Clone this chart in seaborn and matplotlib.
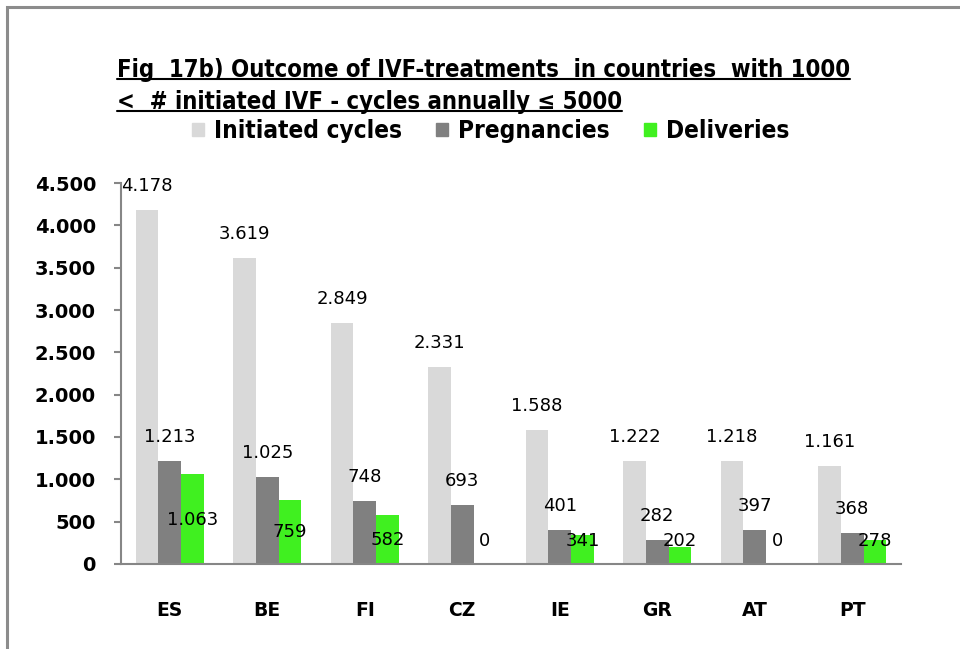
import numpy as np
import pandas as pd
import seaborn as sns
import matplotlib.pyplot as plt
from matplotlib import font_manager as fm
from matplotlib.patches import Rectangle
from matplotlib.lines import Line2D

# data
countries = ['ES', 'BE', 'FI', 'CZ', 'IE', 'GR', 'AT', 'PT']
initiated = [4178, 3619, 2849, 2331, 1588, 1222, 1218, 1161]
pregnancies = [1213, 1025, 748, 693, 401, 282, 397, 368]
deliveries = [1063, 759, 582, 0, 341, 202, 0, 278]
series = ['Initiated cycles', 'Pregnancies', 'Deliveries']
colors = ['#d9d9d9', '#808080', '#40f020']

title_lines = ['Fig  17b) Outcome of IVF-treatments  in countries  with 1000',
               '<  # initiated IVF - cycles annually \u2264 5000']


def fmt(v):
    # European thousands separator
    return f'{v:,}'.replace(',', '.')


def narrow_font():
    # look for an installed condensed bold sans, otherwise plain Liberation Sans
    names = sorted({f.name for f in fm.fontManager.ttflist
                    if 'Narrow' in f.name or 'Condensed' in f.name
                    or (f.stretch in ('condensed', 'semi-condensed')
                        and 'Sans' in f.name)})
    for n in names:
        if 'Liberation' in n or 'Arial' in n:
            return n, 'normal'
    for f in fm.fontManager.ttflist:
        if f.stretch in ('condensed', 'semi-condensed') and f.name in (
                'Noto Sans', 'Open Sans', 'DejaVu Sans', 'Roboto'):
            return f.name, f.stretch
    if names:
        return names[0], 'normal'
    return 'Liberation Sans', 'normal'


title_font, title_stretch = narrow_font()

df = pd.DataFrame({'country': countries * 3,
                   'series': [s for s in series for _ in countries],
                   'value': initiated + pregnancies + deliveries})

sns.set_style('white')
plt.rcParams['font.family'] = ['DejaVu Sans']
plt.rcParams['text.color'] = 'black'
plt.rcParams['xtick.color'] = 'black'
plt.rcParams['ytick.color'] = 'black'

fig = plt.figure(figsize=(9.6, 6.49), dpi=100)
ax = fig.add_axes([0.126, 0.131, 0.8125, 0.587])

sns.barplot(data=df, x='country', y='value', hue='series', palette=colors,
            width=0.7, ax=ax, legend=False, saturation=1, linewidth=0)

ax.set_ylim(0, 4500)
ax.set_xlim(-0.5, 7.5)
ax.set_yticks(np.arange(0, 4501, 500))
ax.set_yticklabels([fmt(int(t)) for t in np.arange(0, 4501, 500)],
                   fontsize=14, fontweight='bold')
ax.set_xticks(range(len(countries)))
ax.set_xticklabels(countries, fontsize=13.5, fontweight='bold')
ax.set_xticks(np.arange(-0.5, 8, 1), minor=True)
ax.tick_params(axis='x', which='major', length=0, pad=27)
ax.tick_params(axis='x', which='minor', length=6, width=1.5, color='#868686',
               direction='out')
ax.tick_params(axis='y', length=5, width=1.5, color='#868686',
               labelcolor='black', direction='out', left=True, pad=13)
ax.set_xlabel('')
ax.set_ylabel('')
for side in ['top', 'right']:
    ax.spines[side].set_visible(False)
for side in ['left', 'bottom']:
    ax.spines[side].set_color('#868686')
    ax.spines[side].set_linewidth(1.5)

# data labels
for i, cont in enumerate(ax.containers):
    for bar in cont:
        v = bar.get_height()
        xc = bar.get_x() + bar.get_width() / 2
        if i < 2:
            ax.annotate(fmt(int(round(v))), (xc, v), xytext=(0, 24),
                        textcoords='offset pixels', ha='center', va='center',
                        fontsize=13)
        else:
            ax.annotate(fmt(int(round(v))), (xc, max(0.49 * v, 272)),
                        ha='center', va='center', fontsize=13)

# legend
handles = [Rectangle((0, 0), 1, 1, color=c) for c in colors]
fig.legend(handles, series, loc='center', bbox_to_anchor=(0.511, 0.798),
           ncol=3, frameon=False, handlelength=0.5, handleheight=0.5,
           handletextpad=0.4, columnspacing=1.4,
           prop={'family': [title_font, 'DejaVu Sans'], 'stretch': title_stretch,
                 'weight': 'bold', 'size': 17.5})

# underlined title
title_y = [0.892, 0.843]
texts = []
for line, y in zip(title_lines, title_y):
    t = fig.text(117 / 960, y, line, ha='left', va='center', fontsize=18,
                 fontweight='bold', fontstretch=title_stretch,
                 family=[title_font, 'DejaVu Sans'])
    texts.append(t)
fig.canvas.draw()
r = fig.canvas.get_renderer()
# scale the title so the first line spans the same width as in the source
w = texts[0].get_window_extent(r).width
for t in texts:
    t.set_fontsize(18 * 736 / w)
fig.canvas.draw()
for t in texts:
    bb = t.get_window_extent(r).transformed(fig.transFigure.inverted())
    fig.add_artist(Line2D([bb.x0, bb.x1], [bb.y0 + 0.004, bb.y0 + 0.004],
                          transform=fig.transFigure, color='black', lw=1.5))

# outer frame
fig.add_artist(Rectangle((6.5 / 960, -0.05), 1.2, 1 - 6.5 / 649 + 0.05,
                         transform=fig.transFigure, fill=False,
                         edgecolor='#8c8c8c', lw=2.2))

fig.savefig('out.png', dpi=100)
